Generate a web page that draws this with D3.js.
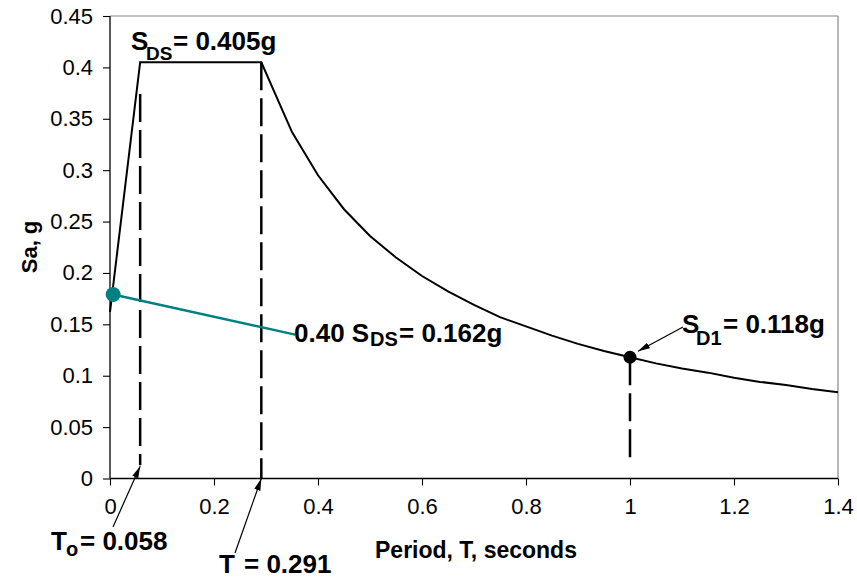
<!DOCTYPE html>
<html><head><meta charset="utf-8">
<script src="https://cdn.jsdelivr.net/npm/d3@7"></script>
<style>
html,body{margin:0;padding:0;background:#fff;}
text{font-family:"Liberation Sans",Arial,sans-serif;}
</style></head>
<body><svg id="chart" width="857" height="578"></svg>
<script>
// ---- data ----
const xTicks = [0, 0.2, 0.4, 0.6, 0.8, 1, 1.2, 1.4];
const yTicks = [0, 0.05, 0.1, 0.15, 0.2, 0.25, 0.3, 0.35, 0.4, 0.45];
const periodT = [0, 0.058, 0.291, 0.35, 0.4, 0.45, 0.5, 0.55, 0.6, 0.65, 0.7, 0.75, 0.8, 0.85, 0.9, 0.95, 1.0, 1.05, 1.1, 1.15, 1.2, 1.25, 1.3, 1.35, 1.4];
const spectrumSa = [0.162, 0.405, 0.405, 0.337, 0.295, 0.262, 0.236, 0.215, 0.197, 0.182, 0.169, 0.157, 0.148, 0.139, 0.131, 0.124, 0.118, 0.112, 0.107, 0.103, 0.098, 0.094, 0.091, 0.087, 0.084];
const tealT = [0.006, 0.356];
const tealSa = [0.179, 0.140];
const dashX = [0.058, 0.291, 1.0];
const dashY0 = [0.013, 0.0, 0.013];
const dashY1 = [0.374, 0.405, 0.118];
const sd1Point = [1.0, 0.118];
const tealPoint = [0.006, 0.179];

// ---- layout ----
const svg = d3.select("#chart");
const L = 110, R = 838, T = 16, B = 478.5;
const x = d3.scaleLinear().domain([0, 1.4]).range([L, R]);
const y = d3.scaleLinear().domain([0, 0.45]).range([B, T]);

const defs = svg.append("defs");
defs.append("marker").attr("id","ah").attr("viewBox","0 0 12 8").attr("refX",12).attr("refY",4)
  .attr("markerWidth",12).attr("markerHeight",8).attr("markerUnits","userSpaceOnUse").attr("orient","auto")
  .append("path").attr("d","M0,0.8 L12,4 L0,7.2 Z").attr("fill","#000");

// frame (top & right, gray)
svg.append("line").attr("x1",L).attr("x2",R).attr("y1",T).attr("y2",T).attr("stroke","#888").attr("stroke-width",1.2);
svg.append("line").attr("x1",R).attr("x2",R).attr("y1",T).attr("y2",B).attr("stroke","#888").attr("stroke-width",1.2);

// axes
const yAxis = svg.append("g").attr("transform",`translate(${L},0)`)
  .call(d3.axisLeft(y).tickValues(yTicks).tickSize(7).tickPadding(10).tickFormat(d3.format("")));
const xAxis = svg.append("g").attr("transform",`translate(0,${B})`)
  .call(d3.axisBottom(x).tickValues(xTicks).tickSize(7).tickPadding(13).tickFormat(d3.format("")));
[yAxis, xAxis].forEach(g => {
  g.select(".domain").attr("stroke","#000").attr("stroke-width",1.3);
  g.selectAll(".tick line").attr("stroke","#000").attr("stroke-width",1.1);
  g.selectAll(".tick text").attr("font-size",22).attr("fill","#000")
    .attr("font-family","Liberation Sans, Arial, sans-serif");
});
xAxis.select(".domain").attr("d",`M${L},0H${R}`);
yAxis.select(".domain").attr("d",`M0,${T}V${B}`);

// axis titles
svg.append("text").attr("x",476).attr("y",558).attr("text-anchor","middle")
  .attr("font-size",23).attr("font-weight","bold").text("Period, T, seconds");
svg.append("text").attr("transform","translate(37,247) rotate(-90)").attr("text-anchor","middle")
  .attr("font-size",22).attr("font-weight","bold").text("Sa, g");

// dashed lines
dashX.forEach((dx,i) => {
  svg.append("line").attr("x1",x(dx)).attr("x2",x(dx)).attr("y1",y(dashY1[i])).attr("y2",y(dashY0[i]))
    .attr("stroke","#000").attr("stroke-width",2.5).attr("stroke-dasharray","28,8");
});

// teal line
const tealData = tealT.map((t,i)=>[t, tealSa[i]]);
svg.append("path").datum(tealData)
  .attr("d", d3.line().x(d=>x(d[0])).y(d=>y(d[1])))
  .attr("fill","none").attr("stroke","#008080").attr("stroke-width",2.5);

// spectrum
const specData = periodT.map((t,i)=>[t, spectrumSa[i]]);
svg.append("path").datum(specData)
  .attr("d", d3.line().x(d=>x(d[0])).y(d=>y(d[1])))
  .attr("fill","none").attr("stroke","#000").attr("stroke-width",2).attr("stroke-linejoin","miter");

// points
svg.append("circle").attr("cx",x(tealPoint[0])).attr("cy",y(tealPoint[1])).attr("r",7.5).attr("fill","#008080");
svg.append("circle").attr("cx",x(sd1Point[0])).attr("cy",y(sd1Point[1])).attr("r",6.5).attr("fill","#000");

// arrows
function arrow(x1,y1,x2,y2){
  svg.append("line").attr("x1",x1).attr("y1",y1).attr("x2",x2).attr("y2",y2)
    .attr("stroke","#000").attr("stroke-width",1.2).attr("marker-end","url(#ah)");
}
arrow(113, 527, x(0.058), y(0.012));
arrow(235, 553, x(0.291), y(0));
arrow(683, 327, x(sd1Point[0])+8, y(sd1Point[1])-6);

// annotations
function txt(xp, yp, s, size){
  svg.append("text").attr("x",xp).attr("y",yp).attr("font-size",size).attr("font-weight","bold").text(s);
}
txt(131, 50, "S", 26); txt(146, 60, "DS", 19); txt(173, 50, "= 0.405g", 26);
txt(294, 342, "0.40 S", 26); txt(370, 346, "DS", 20); txt(399, 342, "= 0.162g", 26);
txt(682, 333, "S", 26); txt(696, 345, "D1", 20); txt(723, 333, "= 0.118g", 26);
txt(51, 550, "T", 26); txt(66, 556, "o", 20); txt(80, 550, "= 0.058", 26);
txt(219, 573, "T", 26); txt(244, 573, "= 0.291", 26);
</script></body></html>
